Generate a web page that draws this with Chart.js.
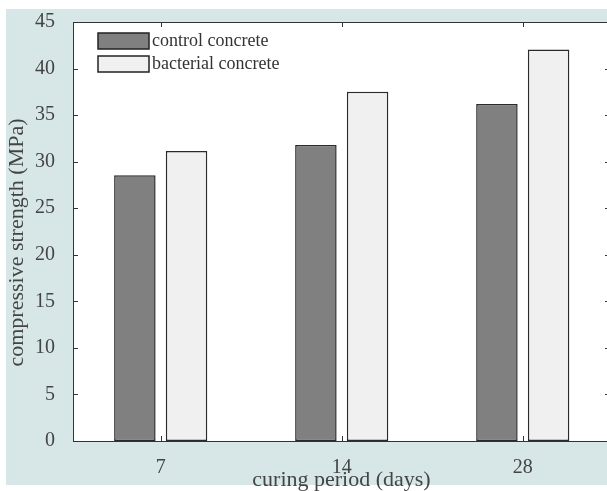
<!DOCTYPE html>
<html>
<head>
<meta charset="utf-8">
<script src="https://cdn.jsdelivr.net/npm/chart.js@4/dist/chart.umd.min.js"></script>
<style>
html, body { margin: 0; padding: 0; background: #fff; overflow: hidden; }
#wrap { width: 620px; height: 491px; }
</style>
</head>
<body>
<div id="wrap"><canvas id="chart" width="620" height="491"></canvas></div>
<script>
// ---------------- DATA ----------------
const curingDays = ["7", "14", "28"];
const controlStrength = [28.55, 31.8, 36.2];
const bacterialStrength = [31.15, 37.5, 42.05];
const seriesNames = ["control concrete", "bacterial concrete"];

// ---------------- STYLE ----------------
const serif = "'Liberation Serif', 'Times New Roman', serif";
const textColor = "#444";
const lineColor = "#333";

// ---------------- FRAME / TICKS / LEGEND ----------------
const framePlugin = {
    id: "frame",
    beforeDraw(chart) {
        const { ctx, chartArea: a, width, height } = chart;
        ctx.save();
        ctx.fillStyle = "#fff";
        ctx.fillRect(0, 0, width, height);
        ctx.fillStyle = "#d7e7e7";
        ctx.fillRect(6, 9, width - 6, 476);
        ctx.fillStyle = "#fff";
        ctx.fillRect(a.left, a.top, a.right - a.left, a.bottom - a.top);
        ctx.restore();
    },
    afterDatasetsDraw(chart) {
        const { ctx, chartArea: a, scales } = chart;
        ctx.save();
        ctx.strokeStyle = lineColor;
        ctx.lineWidth = 1;
        ctx.strokeRect(a.left + 0.5, a.top + 0.5, a.right - a.left, a.bottom - a.top);

        // inward tick marks on all four sides
        ctx.beginPath();
        scales.y.ticks.forEach(t => {
            const y = Math.round(scales.y.getPixelForValue(t.value)) + 0.5;
            ctx.moveTo(a.left, y); ctx.lineTo(a.left + 5, y);
            ctx.moveTo(a.right - 5, y); ctx.lineTo(a.right, y);
        });
        scales.x.ticks.forEach(t => {
            const x = Math.round(scales.x.getPixelForValue(t.value)) + 0.5;
            ctx.moveTo(x, a.bottom); ctx.lineTo(x, a.bottom - 5);
            ctx.moveTo(x, a.top); ctx.lineTo(x, a.top + 5);
        });
        ctx.stroke();

        // legend (inside the axes, top left)
        chart.data.datasets.forEach((ds, i) => {
            const bx = 98, by = 33 + i * 23;
            ctx.fillStyle = ds.backgroundColor;
            ctx.fillRect(bx, by, 51, 16);
            ctx.strokeStyle = "#222";
            ctx.lineWidth = 1.5;
            ctx.strokeRect(bx, by, 51, 16);
            ctx.fillStyle = "#333";
            ctx.font = "18px " + serif;
            ctx.textBaseline = "middle";
            ctx.textAlign = "left";
            ctx.fillText(ds.label, bx + 54, by + 8);
        });
        ctx.restore();
    }
};

// ---------------- BAR CHART ----------------
new Chart(document.getElementById("chart"), {
    type: "bar",
    data: {
        datasets: [{
            label: seriesNames[0],
            data: controlStrength.map((v, i) => ({ x: i + 1, y: v })),
            backgroundColor: "#808080",
            borderColor: "#2a2a2a",
            borderWidth: 1.5,
            borderSkipped: false
        }, {
            label: seriesNames[1],
            data: bacterialStrength.map((v, i) => ({ x: i + 1, y: v })),
            backgroundColor: "#f0f0f0",
            borderColor: "#2a2a2a",
            borderWidth: 1.5,
            borderSkipped: false
        }]
    },
    options: {
        responsive: false,
        animation: false,
        categoryPercentage: 0.571,
        barPercentage: 0.803,
        layout: { padding: { top: 15, right: 10, bottom: 0, left: 0 } },
        plugins: {
            legend: { display: false },
            tooltip: { enabled: false }
        },
        scales: {
            x: {
                type: "linear",
                offset: false,
                min: 0.5155,
                max: 3.482,
                afterBuildTicks: s => { s.ticks = curingDays.map((d, i) => ({ value: i + 1 })); },
                afterFit: s => { s.height = 50; },
                grid: { display: false, offset: false },
                border: { display: false },
                ticks: {
                    padding: 7,
                    color: textColor,
                    font: { family: serif, size: 20 },
                    callback: v => curingDays[v - 1]
                },
                title: {
                    display: true,
                    text: "curing period (days)",
                    color: textColor,
                    font: { family: serif, size: 22, lineHeight: 1.0 },
                    padding: { top: 0, bottom: 0 }
                }
            },
            y: {
                min: 0,
                max: 45,
                afterFit: s => { s.width = 73; },
                grid: { display: false },
                border: { display: false },
                ticks: {
                    stepSize: 5,
                    padding: 10,
                    color: textColor,
                    font: { family: serif, size: 20 }
                },
                title: {
                    display: true,
                    text: "compressive strength (MPa)    ",
                    color: textColor,
                    font: { family: serif, size: 22 },
                    padding: { top: 4, bottom: 0 }
                }
            }
        }
    },
    plugins: [framePlugin]
});
</script>
</body>
</html>
